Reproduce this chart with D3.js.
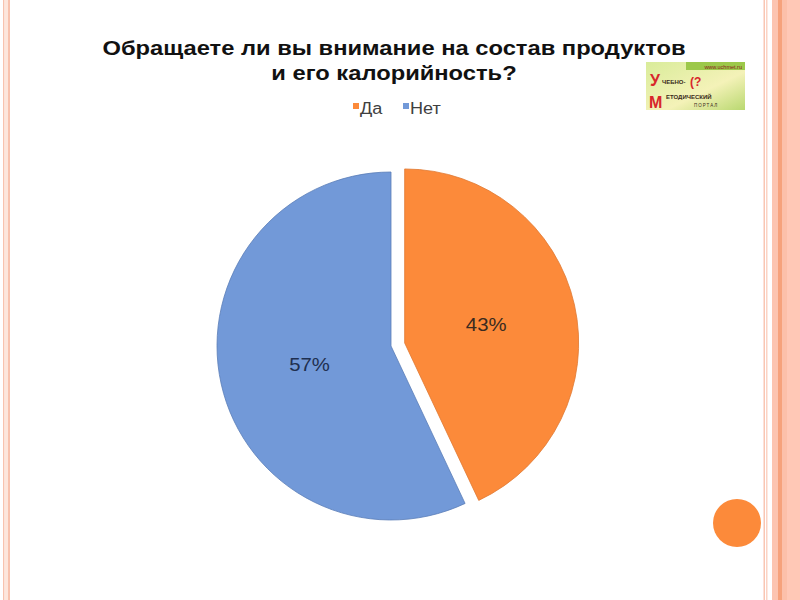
<!DOCTYPE html>
<html>
<head>
<meta charset="utf-8">
<script src="https://cdn.jsdelivr.net/npm/d3@7/dist/d3.min.js"></script>
<style>
html,body{margin:0;padding:0;background:#fff;}
svg{display:block;}
</style>
</head>
<body>
<svg id="chart" width="800" height="600"></svg>
<script>
const categories = ["Да", "Нет"];
const values = [43, 57];
const labels = ["43%", "57%"];
const colors = ["#FC8A3A", "#7299D8"];
const titleLines = ["Обращаете ли вы внимание на состав продуктов", "и его калорийность?"];

const svg = d3.select("#chart");
const font = "'Liberation Sans', Arial, sans-serif";
const SX = 1.13; // horizontal stretch of the slide's text

// slide border stripes
const stripes = [
  [3,1.5,"#f8c2ae"],[4.5,3.5,"#fde6dc"],[8,2,"#f8c2ae"],
  [763.5,1.5,"#f9c6b3"],[766,1.5,"#fbd3c4"],
  [772,6,"#fcc4b0"],[778,4,"#f6a27c"],[782,5,"#fcc0aa"],[787,13,"#ffc8b6"]
];
svg.selectAll("rect.stripe").data(stripes).join("rect")
  .attr("class","stripe")
  .attr("x",d=>d[0]).attr("y",0).attr("width",d=>d[1]).attr("height",600)
  .attr("fill",d=>d[2]);

// title
svg.selectAll("text.title").data(titleLines).join("text")
  .attr("class","title")
  .attr("transform",(d,i)=>`translate(394,${55+i*25}) scale(${SX},1)`)
  .attr("text-anchor","middle")
  .attr("font-family",font).attr("font-weight","bold").attr("font-size",21)
  .attr("fill","#111")
  .text(d=>d);

// legend
const legend = svg.append("g").attr("font-family",font).attr("font-size",16).attr("fill","#404040");
const legX = [353, 403];
categories.forEach((c,i)=>{
  legend.append("rect").attr("x",legX[i]).attr("y",103).attr("width",6).attr("height",6).attr("fill",colors[i]);
  legend.append("text").attr("transform",`translate(${legX[i]+7},114) scale(${SX},1)`).text(c);
});

// logo
const logo = svg.append("g").attr("transform","translate(646,62)");
const grad = svg.append("defs").append("linearGradient").attr("id","lg").attr("x1","0").attr("x2","1").attr("y1","0").attr("y2","1");
grad.append("stop").attr("offset","0").attr("stop-color","#d9ec9a");
grad.append("stop").attr("offset","0.6").attr("stop-color","#f4f2b8");
grad.append("stop").attr("offset","1").attr("stop-color","#b9d870");
logo.append("rect").attr("width",99).attr("height",48).attr("fill","url(#lg)");
logo.append("rect").attr("x",40).attr("width",59).attr("height",8).attr("fill","#9cc84a");
logo.append("text").attr("x",96).attr("y",6.5).attr("text-anchor","end").attr("font-family",font).attr("font-size",5.5).attr("fill","#8a1a1a").text("www.uchmet.ru");
logo.append("text").attr("x",4).attr("y",24).attr("font-family",font).attr("font-weight","bold").attr("font-size",16).attr("fill","#d8262a").text("У");
logo.append("text").attr("x",16).attr("y",22).attr("font-family",font).attr("font-weight","bold").attr("font-size",6).attr("fill","#3a2a1a").text("ЧЕБНО-");
logo.append("text").attr("x",44).attr("y",24).attr("font-family",font).attr("font-weight","bold").attr("font-size",12).attr("fill","#d8262a").text("(?");
logo.append("text").attr("x",3).attr("y",46).attr("font-family",font).attr("font-weight","bold").attr("font-size",16).attr("fill","#d8262a").text("М");
logo.append("text").attr("x",20).attr("y",37).attr("font-family",font).attr("font-weight","bold").attr("font-size",6).attr("fill","#3a2a1a").text("ЕТОДИЧЕСКИЙ");
logo.append("text").attr("x",48).attr("y",45).attr("font-family",font).attr("font-size",4.5).attr("letter-spacing",1).attr("fill","#3a2a1a").text("ПОРТАЛ");

// pie
const cx = 391, cy = 346, r = 174, explode = 14;
const pie = d3.pie().sort(null).startAngle(0).endAngle(2*Math.PI);
const arcs = pie(values);
const arc = d3.arc().innerRadius(0).outerRadius(r);
const labelArc = d3.arc().innerRadius(r*0.48).outerRadius(r*0.48);
const off = [explode, 0];
const strokes = ["#e07a34", "#5a7db8"];
const labelColors = ["#3a2a20", "#1f2f4f"];

const g = svg.append("g").attr("transform",`translate(${cx},${cy})`);
const slices = g.selectAll("g.slice").data(arcs).join("g")
  .attr("class","slice")
  .attr("transform",(d,i)=>{
    const m = (d.startAngle+d.endAngle)/2;
    return `translate(${off[i]*Math.sin(m)},${-off[i]*Math.cos(m)})`;
  });
slices.append("path").attr("d",arc)
  .attr("fill",(d,i)=>colors[i])
  .attr("stroke",(d,i)=>strokes[i]).attr("stroke-width",0.8);
slices.append("text")
  .attr("transform",d=>`translate(${labelArc.centroid(d)}) scale(${SX},1)`)
  .attr("text-anchor","middle").attr("dy","0.35em")
  .attr("font-family",font).attr("font-size",18)
  .attr("fill",(d,i)=>labelColors[i])
  .text((d,i)=>labels[i]);

// decorative circle
svg.append("circle").attr("cx",737).attr("cy",523).attr("r",24).attr("fill","#FC8A3A");
</script>
</body>
</html>
